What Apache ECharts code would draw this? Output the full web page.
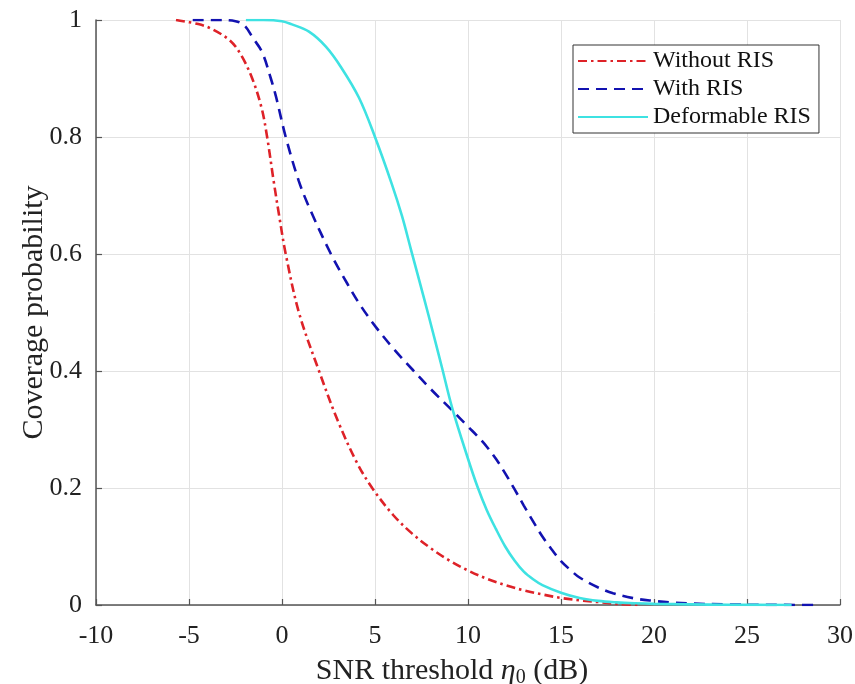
<!DOCTYPE html>
<html>
<head>
<meta charset="utf-8">
<script src="https://cdn.jsdelivr.net/npm/echarts@6/dist/echarts.min.js"></script>
<style>html,body{margin:0;padding:0;background:#fff;}#c{width:855px;height:684px;}</style>
</head>
<body>
<div id="c"></div>
<script>
// SNR threshold (dB) and coverage probability values
var seriesNames = ['Without RIS', 'With RIS', 'Deformable RIS'];

var withoutX = [-5.7, -4.5, -3.8, -2.8, -2.2, -1.6, -1.1, -0.8, -0.45, -0.15, 0.2, 0.91, 1.99, 3, 4, 4.85, 6, 7, 8, 9, 10, 11, 12, 13, 14, 15, 16, 17, 18, 19.2];
var withoutY = [1.0, 0.993, 0.985, 0.965, 0.94, 0.9, 0.85, 0.8, 0.725, 0.665, 0.6, 0.5, 0.4, 0.315, 0.245, 0.2, 0.153, 0.122, 0.097, 0.076, 0.059, 0.045, 0.034, 0.025, 0.018, 0.012, 0.008, 0.005, 0.002, 0.0];

var withX = [-4.8, -3.5, -2.5, -2, -1.6, -1.07, -0.6, -0.33, 0.2, 0.9, 1.5, 2.63, 3.5, 4.2, 5.05, 6, 7, 8, 9.14, 10, 10.5, 11, 11.5, 12, 12.5, 13, 13.5, 14, 14.5, 15, 15.5, 16, 17, 17.8, 19, 20, 21, 22, 24, 26, 28.7];
var withY = [1.0, 1.0, 0.998, 0.99, 0.971, 0.945, 0.9, 0.87, 0.8, 0.725, 0.677, 0.6, 0.55, 0.513, 0.475, 0.438, 0.403, 0.369, 0.333, 0.305, 0.289, 0.271, 0.25, 0.225, 0.198, 0.17, 0.143, 0.117, 0.095, 0.075, 0.06, 0.047, 0.03, 0.02, 0.011, 0.007, 0.004, 0.0025, 0.001, 0.0003, 0.0];

var deformX = [-1.94, -1, 0, 0.5, 1.45, 2.37, 3.2, 4.14, 5, 5.9, 6.45, 6.93, 7.63, 8.1, 8.6, 9.14, 10, 10.5, 11, 11.5, 12, 12.5, 13, 13.5, 14, 15, 16, 17, 18, 19, 20, 22, 24, 27.4];
var deformY = [1.0, 1.0, 0.998, 0.993, 0.98, 0.954, 0.918, 0.867, 0.8, 0.72, 0.665, 0.608, 0.525, 0.468, 0.406, 0.338, 0.25, 0.203, 0.163, 0.13, 0.1, 0.076, 0.057, 0.044, 0.034, 0.021, 0.012, 0.007, 0.0045, 0.003, 0.002, 0.001, 0.0003, 0.0];

function pairs(xs, ys) { return xs.map(function (x, i) { return [x, ys[i]]; }); }

var serif = 'Liberation Serif';
var chart = echarts.init(document.getElementById('c'));
chart.setOption({
  backgroundColor: '#fff',
  animation: false,
  grid: { left: 96, right: 15, top: 20, bottom: 79, containLabel: false, outerBoundsMode: 'none' },
  legend: {
    orient: 'vertical',
    left: 573, top: 45,
    itemWidth: 70, itemHeight: 14, itemGap: 4,
    padding: [4, 8, 4, 4],
    backgroundColor: '#fff', borderColor: '#333', borderWidth: 1, borderRadius: 0,
    itemStyle: { opacity: 0 },
    textStyle: { fontFamily: serif, fontSize: 24, color: '#111' },
    data: seriesNames
  },
  xAxis: {
    type: 'value', min: -10, max: 30, interval: 5,
    name: 'SNR threshold {i|η}{sub|0} (dB)',
    nameLocation: 'middle', nameGap: 50,
    nameTextStyle: { fontFamily: serif, fontSize: 30, color: '#222', padding: [0, 32, 0, 0],
      rich: { i: { fontFamily: serif, fontStyle: 'italic', fontSize: 30, color: '#222' },
              sub: { fontFamily: serif, fontSize: 20, color: '#222', padding: [13, 0, 0, 0] } } },
    axisLine: { show: true, onZero: false, lineStyle: { color: '#555', width: 1.5 } },
    axisTick: { show: true, inside: true, length: 6, lineStyle: { color: '#555', width: 1.2 } },
    axisLabel: { fontFamily: serif, fontSize: 26, color: '#222', margin: 18 },
    splitLine: { show: true, lineStyle: { color: '#e2e2e2', width: 1 } }
  },
  yAxis: {
    type: 'value', min: 0, max: 1, interval: 0.2,
    name: 'Coverage probability',
    nameLocation: 'middle', nameGap: 47, nameMoveOverlap: false,
    nameTextStyle: { fontFamily: serif, fontSize: 30, color: '#222' },
    axisLine: { show: true, onZero: false, lineStyle: { color: '#555', width: 1.5 } },
    axisTick: { show: true, inside: true, length: 6, lineStyle: { color: '#555', width: 1.2 } },
    axisLabel: { fontFamily: serif, fontSize: 26, color: '#222', margin: 14 },
    splitLine: { show: true, lineStyle: { color: '#e2e2e2', width: 1 } }
  },
  series: [
    { name: seriesNames[0], type: 'line', data: pairs(withoutX, withoutY), symbol: 'none',
      smooth: 0.35,
      lineStyle: { color: '#de2228', width: 2.6, type: [9, 4, 2.5, 4] }, itemStyle: { color: '#de2228' } },
    { name: seriesNames[1], type: 'line', data: pairs(withX, withY), symbol: 'none',
      smooth: 0.35,
      lineStyle: { color: '#1212b0', width: 2.6, type: [11, 7] }, itemStyle: { color: '#1212b0' } },
    { name: seriesNames[2], type: 'line', data: pairs(deformX, deformY), symbol: 'none',
      smooth: 0.35,
      lineStyle: { color: '#3ee2e2', width: 2.6, type: 'solid' }, itemStyle: { color: '#3ee2e2' } }
  ]
});
</script>
</body>
</html>
